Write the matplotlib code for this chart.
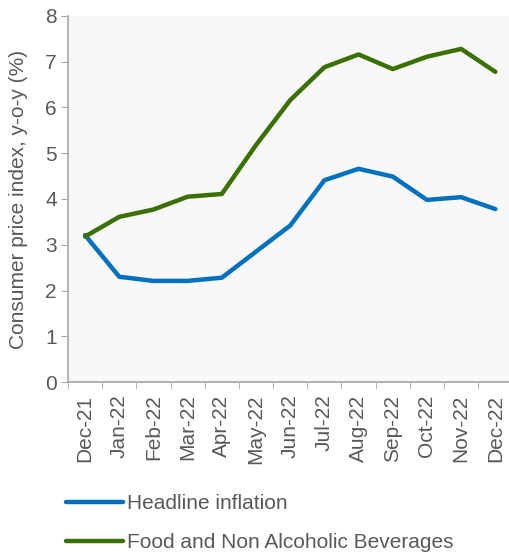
import matplotlib.pyplot as plt
import numpy as np

months = ["Dec-21", "Jan-22", "Feb-22", "Mar-22", "Apr-22", "May-22", "Jun-22",
          "Jul-22", "Aug-22", "Sep-22", "Oct-22", "Nov-22", "Dec-22"]
headline = [3.21, 2.30, 2.21, 2.21, 2.28, 2.85, 3.42, 4.41, 4.66, 4.49, 3.98, 4.04, 3.78]
food = [3.18, 3.61, 3.77, 4.05, 4.11, 5.18, 6.16, 6.88, 7.16, 6.84, 7.11, 7.28, 6.78]

plt.rcParams['font.family'] = ['Liberation Sans', 'DejaVu Sans']
txt = '#595959'
grey = '#a6a6a6'
fs = 15

fig = plt.figure(figsize=(5.09, 5.55), dpi=100)
ax = fig.add_axes([0.1336, 0.3117, 0.8664, 0.6595])
ax.set_facecolor('#f8f8f8')

x = np.arange(len(months))
ax.plot(x, headline, color='#0070C0', lw=3.2, solid_capstyle='round', label='Headline inflation')
ax.plot(x, food, color='#3A7000', lw=3.2, solid_capstyle='round', label='Food and Non Alcoholic Beverages')

ax.set_xlim(-0.5, 12.4)
ax.set_ylim(0, 8)
ax.set_yticks(range(0, 9))
ax.set_xticks(x)
ax.set_xticklabels(months, rotation=90, color=txt, fontsize=fs)
ax.set_xticks(np.arange(-0.5, 12.5, 1), minor=True)
ax.tick_params(axis='x', which='major', length=0, pad=9)
ax.tick_params(axis='x', which='minor', length=5, color=grey, direction='out')
ax.tick_params(axis='y', length=5, color=grey, labelcolor=txt, labelsize=fs, pad=3)

for s in ['top', 'right']:
    ax.spines[s].set_visible(False)
for s in ['left', 'bottom']:
    ax.spines[s].set_color(grey)
    ax.spines[s].set_linewidth(1.2)

ax.set_ylabel('Consumer price index, y-o-y (%)', color=txt, fontsize=fs, labelpad=12)

fig.legend(loc='upper left', bbox_to_anchor=(0.110, 0.128), frameon=False,
           fontsize=fs, handlelength=2.7, handletextpad=0.2, labelspacing=0.95,
           borderpad=0, labelcolor=txt)

fig.savefig('out.png', dpi=100)
